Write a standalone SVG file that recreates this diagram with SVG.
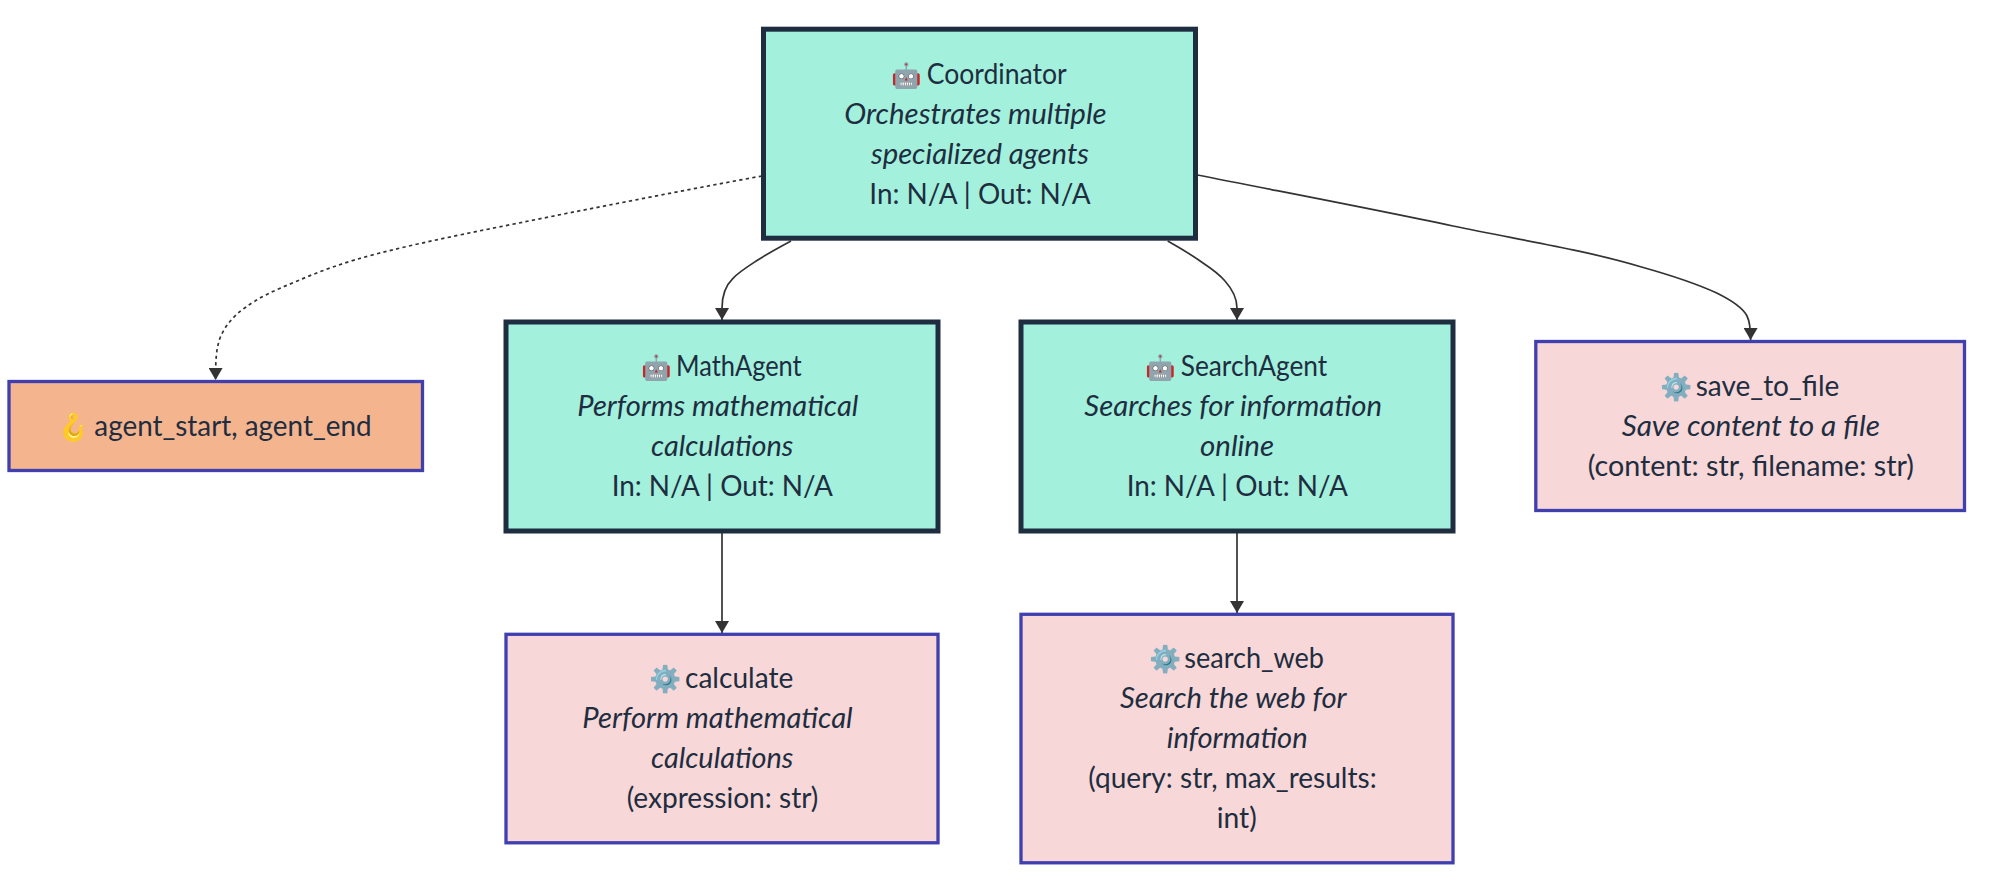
<svg xmlns="http://www.w3.org/2000/svg" width="2006" height="894" viewBox="0 0 2006 894">
<style>
text{font-family:"Lato","Noto Sans",sans-serif;font-size:28px;fill:#1e2d40;text-anchor:middle}
.d{font-style:italic}
.h{text-anchor:start}
.e{font-size:24.5px}
.g{font-size:26px}
.agent{fill:#a3f0dc;stroke:#1e2d40;stroke-width:5}
.tool{fill:#f7d7d7;stroke:#3f3fb0;stroke-width:3.3}
.hook{fill:#f4b48e;stroke:#3f3fb0;stroke-width:3.3}
.c{fill:none;stroke:#333;stroke-width:1.7}
</style>
<defs><marker id="a" markerUnits="userSpaceOnUse" markerWidth="14" markerHeight="14" refX="12" refY="7" orient="auto"><path d="M0 0L12 7L0 14z" fill="#333"/></marker></defs>
<g id="connectors">
<path class="c" marker-end="url(#a)" stroke-dasharray="3.3 3.3" d="M762 176C696 188 630 201 566 213.5C500 227 435 239 378 253.5C345 262 320 271 295 282C275 290 258 298 246 307C233 316 225 326 220 338C216 350 215.6 360 215.6 380"/>
<path class="c" marker-end="url(#a)" d="M791 241C778 248 767 254 757 260.5C747 267 739 272 733 278.3C726 285 722 296 722 308V320"/>
<path class="c" marker-end="url(#a)" d="M1167.7 241C1180 248 1192 255 1203 263C1212 269 1220 275 1225 281C1233 290 1237 299 1237 308V320"/>
<path class="c" marker-end="url(#a)" d="M1197.5 175C1283 192 1368 208 1453 226C1520 240 1585 250 1641.5 267C1670 275 1695 283 1716.7 293C1733 301 1743 308 1747 316C1750 322 1750.6 328 1750.6 340"/>
<path class="c" marker-end="url(#a)" d="M722 533V633"/>
<path class="c" marker-end="url(#a)" d="M1237 533V613"/>
</g>
<g id="coordinator"><rect class="agent" x="763.5" y="29.2" width="432" height="209"/><text class="h" y="83.5"><tspan class="e" x="890.5">🤖</tspan> <tspan x="926.7" textLength="140" lengthAdjust="spacingAndGlyphs">Coordinator</tspan></text><text class="d" x="975.5" y="123.5" textLength="262.3" lengthAdjust="spacingAndGlyphs">Orchestrates multiple</text><text class="d" x="980" y="163.5" textLength="218" lengthAdjust="spacingAndGlyphs">specialized agents</text><text x="980" y="203.5" textLength="221.3" lengthAdjust="spacingAndGlyphs">In: N/A | Out: N/A</text></g>
<g id="hook"><rect class="hook" x="9" y="381.5" width="413.5" height="89"/><text class="h" y="435.5"><tspan class="g" x="57">🪝</tspan> <tspan x="94.3" textLength="277.3" lengthAdjust="spacingAndGlyphs">agent_start, agent_end</tspan></text></g>
<g id="mathagent"><rect class="agent" x="506" y="322" width="432" height="209"/><text class="h" y="375.5"><tspan class="e" x="640.5">🤖</tspan> <tspan x="676" textLength="125.7" lengthAdjust="spacingAndGlyphs">MathAgent</tspan></text><text class="d" x="717.8" y="415.5" textLength="281" lengthAdjust="spacingAndGlyphs">Performs mathematical</text><text class="d" x="722.2" y="455.5" textLength="142.3" lengthAdjust="spacingAndGlyphs">calculations</text><text x="722.3" y="495.5" textLength="221.3" lengthAdjust="spacingAndGlyphs">In: N/A | Out: N/A</text></g>
<g id="searchagent"><rect class="agent" x="1021" y="322" width="432" height="209"/><text class="h" y="375.5"><tspan class="e" x="1145">🤖</tspan> <tspan x="1180.7" textLength="146.6" lengthAdjust="spacingAndGlyphs">SearchAgent</tspan></text><text class="d" x="1233.2" y="415.5" textLength="297.7" lengthAdjust="spacingAndGlyphs">Searches for information</text><text class="d" x="1237" y="455.5" textLength="74" lengthAdjust="spacingAndGlyphs">online</text><text x="1237.3" y="495.5" textLength="221.3" lengthAdjust="spacingAndGlyphs">In: N/A | Out: N/A</text></g>
<g id="save_to_file"><rect class="tool" x="1535.8" y="341.5" width="428.7" height="169"/><text class="h" y="396"><tspan class="g" x="1659.5">⚙️</tspan> <tspan x="1695.7" textLength="143.6" lengthAdjust="spacingAndGlyphs">save_to_file</tspan></text><text class="d" x="1750.8" y="436" textLength="258.3" lengthAdjust="spacingAndGlyphs">Save content to a file</text><text x="1750.8" y="476" textLength="326.3" lengthAdjust="spacingAndGlyphs">(content: str, filename: str)</text></g>
<g id="calculate"><rect class="tool" x="506" y="634.3" width="432" height="208.5"/><text class="h" y="688.3"><tspan class="g" x="648.5">⚙️</tspan> <tspan x="685" textLength="108.3" lengthAdjust="spacingAndGlyphs">calculate</tspan></text><text class="d" x="717.5" y="728.3" textLength="270.3" lengthAdjust="spacingAndGlyphs">Perform mathematical</text><text class="d" x="722.2" y="768.3" textLength="142.3" lengthAdjust="spacingAndGlyphs">calculations</text><text x="722.5" y="808.3" textLength="191.7" lengthAdjust="spacingAndGlyphs">(expression: str)</text></g>
<g id="search_web"><rect class="tool" x="1021" y="614.3" width="432" height="248.5"/><text class="h" y="668.3"><tspan class="g" x="1148.5">⚙️</tspan> <tspan x="1184.3" textLength="139.7" lengthAdjust="spacingAndGlyphs">search_web</tspan></text><text class="d" x="1233.3" y="708.3" textLength="226.7" lengthAdjust="spacingAndGlyphs">Search the web for</text><text class="d" x="1237.2" y="748.3" textLength="141" lengthAdjust="spacingAndGlyphs">information</text><text x="1232.5" y="788.3" textLength="288.3" lengthAdjust="spacingAndGlyphs">(query: str, max_results:</text><text x="1236.7" y="828.3" textLength="40" lengthAdjust="spacingAndGlyphs">int)</text></g>
</svg>
